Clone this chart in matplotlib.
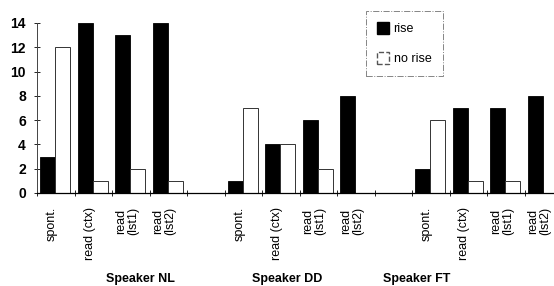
import numpy as np
import matplotlib.pyplot as plt
from matplotlib.patches import Patch

plt.rcParams["font.family"] = ["Liberation Sans", "DejaVu Sans"]

# ---------------------------------------------------------
# Data
# ---------------------------------------------------------
speakers = ["Speaker NL", "Speaker DD", "Speaker FT"]
conditions = ["spont.", "read (ctx)", "read\n(lst1)", "read\n(lst2)"]
rise = [
    [3, 14, 13, 14],   # NL
    [1, 4, 6, 8],      # DD
    [2, 7, 7, 8],      # FT
]
no_rise = [
    [12, 1, 2, 1],
    [7, 4, 2, 0],
    [6, 1, 1, 0],
]
yticks = [0, 2, 4, 6, 8, 10, 12, 14]

# where the speaker captions sit (in slot units, as in the original figure)
speaker_label_x = [2.75, 6.67, 10.13]

# ---------------------------------------------------------
# Figure
# ---------------------------------------------------------
fig = plt.figure(figsize=(5.54, 2.86), dpi=100)
ax = fig.add_axes([37 / 554, 93 / 286, 1 - 37 / 554, 170 / 286])

slots_per_group = len(conditions) + 1
bar_w = 0.4
label_x, label_text = [], []
for g, spk in enumerate(speakers):
    start = g * slots_per_group
    pos = start + np.arange(len(conditions))
    ax.bar(pos + 0.08, rise[g], width=bar_w, align="edge",
           color="black", edgecolor="black", linewidth=0.6)
    ax.bar(pos + 0.08 + bar_w, no_rise[g], width=bar_w, align="edge",
           color="white", edgecolor="#333333", linewidth=0.7)
    label_x.extend(pos + 0.4)
    label_text.extend(conditions)
    ax.text(speaker_label_x[g], -0.505, spk, transform=ax.get_xaxis_transform(),
            ha="center", va="center", fontsize=9, fontweight="bold")

ax.set_xlim(0, (554 - 37) / 37.5)
ax.set_ylim(0, 14)
ax.set_yticks(yticks)
ax.tick_params(axis="y", direction="inout", length=4, width=0.6,
               labelsize=10, pad=6)
for lbl in ax.get_yticklabels():
    lbl.set_fontweight("bold")

ax.set_xticks(label_x)
ax.set_xticklabels(label_text, rotation=90, fontsize=9, va="top",
                   linespacing=1.0)
ax.tick_params(axis="x", length=0, pad=10)
ax.set_xticks(np.arange(0, 14), minor=True)
ax.tick_params(axis="x", which="minor", direction="inout", length=4, width=0.6)

for side in ["top", "right"]:
    ax.spines[side].set_visible(False)
ax.spines["left"].set_linestyle((0, (2, 1)))
ax.spines["left"].set_linewidth(0.7)
ax.spines["left"].set_color("#444444")
ax.spines["bottom"].set_linewidth(0.9)

handles = [
    Patch(facecolor="black", edgecolor="black", label="rise"),
    Patch(facecolor="white", edgecolor="#555555", linestyle="--", label="no rise"),
]
leg = ax.legend(handles=handles, loc="upper left",
                bbox_to_anchor=((366 - 37) / 517, 1 + 12 / 170),
                fontsize=9, frameon=True, fancybox=False,
                handlelength=0.9, handleheight=1.1, labelspacing=1.3,
                borderpad=0.9, handletextpad=0.4, borderaxespad=0)
leg.get_frame().set_edgecolor("#666666")
leg.get_frame().set_linestyle("-.")
leg.get_frame().set_linewidth(0.7)

fig.savefig("out.png", dpi=100)
